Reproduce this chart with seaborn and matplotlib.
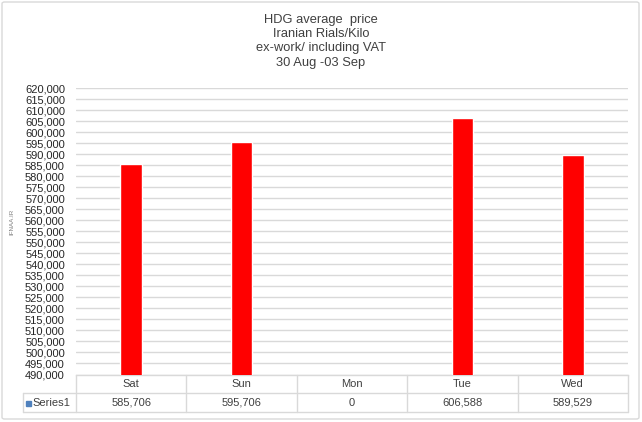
import matplotlib
matplotlib.use("Agg")
import matplotlib.pyplot as plt
import seaborn as sns
import pandas as pd
from matplotlib.patches import FancyBboxPatch, Rectangle
from matplotlib.lines import Line2D

days = ["Sat", "Sun", "Mon", "Tue", "Wed"]
prices = [585706, 595706, 0, 606588, 589529]
price_labels = ["585,706", "595,706", "0", "606,588", "589,529"]
series_name = "Series1"
title_lines = ["HDG average  price", "Iranian Rials/Kilo", "ex-work/ including VAT", "30 Aug -03 Sep"]

sns.set_theme(style="white")
plt.rcParams['font.family'] = ['Liberation Sans', 'DejaVu Sans']

W, H = 642, 422
fig = plt.figure(figsize=(W / 100, H / 100), dpi=100)

def fx(px):
    return px / W

def fy(py):
    return 1 - py / H

L, R, T, B = 76, 628, 88.3, 374.5
ax = fig.add_axes([fx(L), fy(B), fx(R - L), (B - T) / H])

df = pd.DataFrame({"day": days, "price": prices})
sns.barplot(data=df, x="day", y="price", color="#ff0000", saturation=1, width=0.197, ax=ax, zorder=3)
ax.set_ylim(490000, 620000)
ax.set_xlim(-0.5, len(days) - 0.5)
ax.set_yticks(range(490000, 620001, 5000))
ax.set_yticklabels([f"{v:,}" for v in range(490000, 620001, 5000)], fontsize=8, color="#262626")
ax.tick_params(axis="y", length=0, pad=8)
ax.set_xticks([])
ax.set_xlabel("")
ax.set_ylabel("")
ax.grid(axis="y", color="#d9d9d9", linewidth=1, zorder=0)
for s in ["left", "right", "top"]:
    ax.spines[s].set_visible(False)
ax.spines["bottom"].set_color("#d9d9d9")
ax.spines["bottom"].set_linewidth(1)

# title
for i, line in enumerate(title_lines):
    fig.text(0.5, fy(19.5 + 14.5 * i), line, ha="center", va="center", fontsize=9.3, color="#404040")

# watermark
fig.text(fx(12), fy(222), "IFNAA.IR", rotation=90, ha="center", va="center", fontsize=4.5, color="#7f7f7f")

# data table
gc = "#d9d9d9"
row_mid, row_bot = 393, 412
cw = (R - L) / len(days)
def hline(y, x0, x1):
    fig.add_artist(Line2D([fx(x0), fx(x1)], [fy(y), fy(y)], color=gc, lw=1))
def vline(x, y0, y1):
    fig.add_artist(Line2D([fx(x), fx(x)], [fy(y0), fy(y1)], color=gc, lw=1))
hline(row_mid, 23, R)
hline(row_bot, 23, R)
vline(23, row_mid, row_bot)
for i in range(len(days) + 1):
    vline(L + i * cw, B, row_bot)
for i, (d, lab) in enumerate(zip(days, price_labels)):
    cx = L + (i + 0.5) * cw
    fig.text(fx(cx), fy(384), d, ha="center", va="center", fontsize=8, color="#404040")
    fig.text(fx(cx), fy(402.5), lab, ha="center", va="center", fontsize=8, color="#404040")
fig.add_artist(Rectangle((fx(25.5), fy(405.5)), fx(5), 5 / H, color="#4f81bd", transform=fig.transFigure))
fig.text(fx(32), fy(402.5), series_name, ha="left", va="center", fontsize=8, color="#404040")

# outer border
fig.add_artist(FancyBboxPatch((fx(2), fy(419)), fx(637), 417 / H, boxstyle="round,pad=0,rounding_size=0.004",
                              transform=fig.transFigure, fill=False, edgecolor="#d9d9d9", lw=1))

fig.savefig("out.png", dpi=100)
